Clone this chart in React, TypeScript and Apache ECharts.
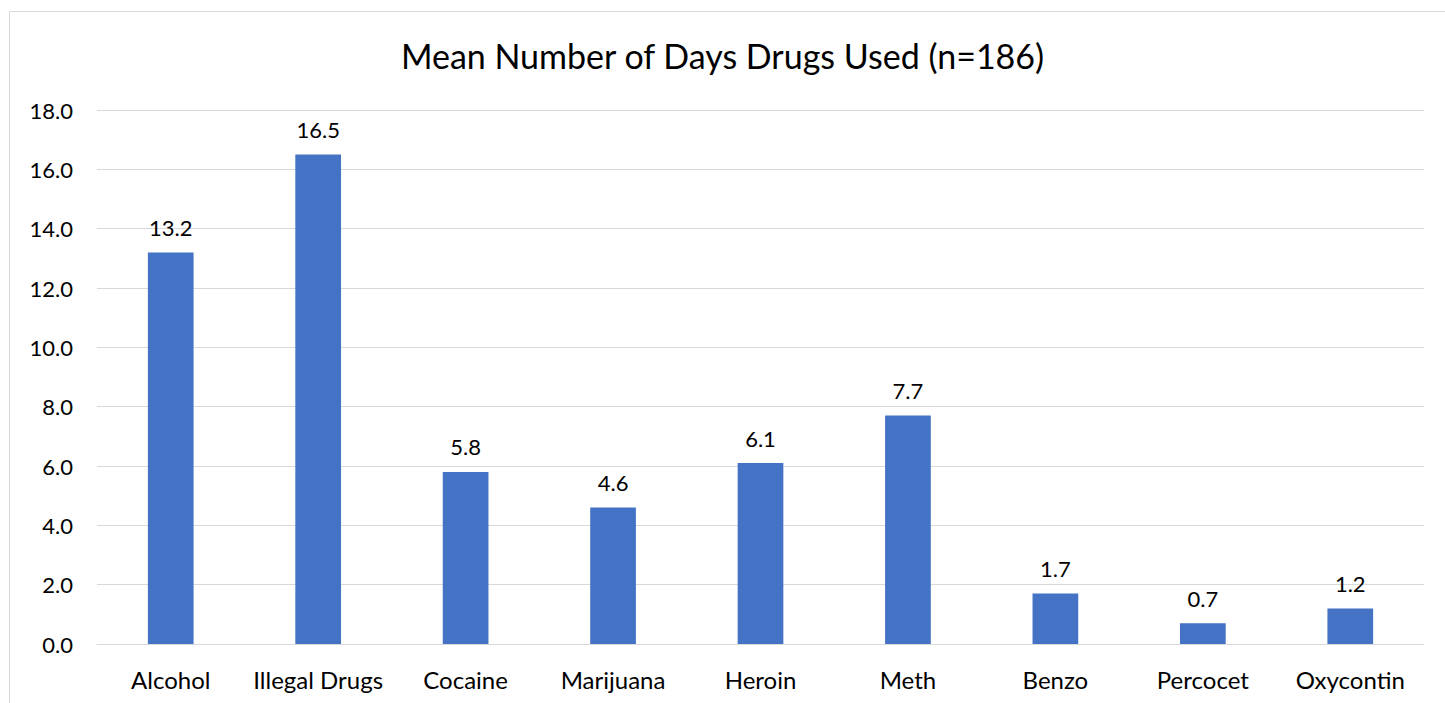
import React, { useEffect, useRef } from "react";
import * as echarts from "echarts";

const categories = ["Alcohol", "Illegal Drugs", "Cocaine", "Marijuana", "Heroin", "Meth", "Benzo", "Percocet", "Oxycontin"];
const meanDays = [13.2, 16.5, 5.8, 4.6, 6.1, 7.7, 1.7, 0.7, 1.2];
const chartTitle = "Mean Number of Days Drugs Used (n=186)";

const FONT = "Lato, 'Open Sans', sans-serif";

export default function App() {
  const ref = useRef<HTMLDivElement>(null);

  useEffect(() => {
    if (!ref.current) return;
    const chart = echarts.init(ref.current, null, { renderer: "svg" });
    chart.setOption({
      animation: false,
      backgroundColor: "#ffffff",
      title: {
        text: chartTitle,
        left: "center",
        top: 33,
        textStyle: { fontFamily: FONT, fontSize: 34, fontWeight: "normal", color: "#000000" },
      },
      graphic: [
        {
          type: "rect",
          shape: { x: 9.5, y: 11.5, width: 1460, height: 720 },
          style: { fill: "none", stroke: "#d9d9d9", lineWidth: 1 },
          silent: true,
        },
      ],
      grid: { left: 97, right: 21, top: 110, bottom: 59, containLabel: false },
      xAxis: {
        type: "category",
        data: categories,
        axisLine: { show: true, lineStyle: { color: "#d9d9d9", width: 1 } },
        axisTick: { show: false },
        axisLabel: { fontFamily: FONT, fontSize: 24, color: "#000000", margin: 23, interval: 0 },
      },
      yAxis: {
        type: "value",
        min: 0,
        max: 18,
        interval: 2,
        axisLine: { show: false },
        axisTick: { show: false },
        splitLine: { lineStyle: { color: "#d9d9d9", width: 1 } },
        axisLabel: {
          fontFamily: FONT,
          fontSize: 22,
          color: "#000000",
          margin: 24,
          formatter: (v: number) => v.toFixed(1),
        },
      },
      series: [
        {
          type: "bar",
          data: meanDays,
          barWidth: "31%",
          itemStyle: { color: "#4472c4" },
          label: {
            show: true,
            position: "top",
            distance: 14,
            fontFamily: FONT,
            fontSize: 22,
            color: "#000000",
            formatter: (p: any) => Number(p.value).toFixed(1),
          },
        },
      ],
    });
    return () => chart.dispose();
  }, []);

  return (
    <div
      ref={ref}
      style={{ position: "fixed", left: 0, top: 0, width: 1445, height: 703 }}
    />
  );
}
